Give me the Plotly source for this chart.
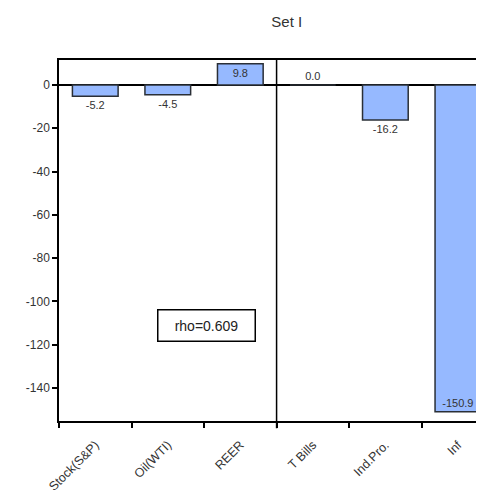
import plotly.graph_objects as go

categories = ["Stock(S&P)", "Oil(WTI)", "REER", "T Bills", "Ind.Pro.", "Inf"]
values = [-5.2, -4.5, 9.8, 0.0, -16.2, -150.9]
text_positions = ["outside", "outside", "inside", "outside", "outside", "inside"]
y_ticks = [0, -20, -40, -60, -80, -100, -120, -140]
rho_label = "rho=0.609"
title_text = "Set I"

FONT = "Liberation Sans, Arial"

fig = go.Figure()
fig.add_trace(go.Bar(
    x=categories, y=values,
    width=0.63,
    marker=dict(color="#96B9FF", line=dict(color="#2a2f36", width=1.5)),
    text=[f"{v:.1f}" for v in values],
    textposition=text_positions,
    insidetextanchor="end",
    textfont=dict(family=FONT, size=11, color="#333333"),
    cliponaxis=False,
    constraintext="none",
))

fig.add_shape(type="line", xref="x", yref="paper", x0=2.5, x1=2.5, y0=-0.02, y1=1,
              line=dict(color="black", width=1.5))

fig.add_annotation(x=1.54, y=-111.3, xref="x", yref="y", text=rho_label, showarrow=False,
                   font=dict(family=FONT, size=14, color="#222"),
                   width=84, height=18,
                   bordercolor="black", borderwidth=1.5, borderpad=6, bgcolor="white")

fig.update_layout(
    width=476, height=491,
    margin=dict(l=51, r=0, t=52, b=78),
    paper_bgcolor="white", plot_bgcolor="white",
    showlegend=False,
    title=dict(text=title_text, x=0.536, xref="paper", xanchor="center",
               y=0.9715, yref="container", yanchor="middle",
               font=dict(family=FONT, size=15, color="#333")),
    font=dict(family=FONT, size=12, color="#333"),
)
fig.update_xaxes(
    type="category", range=[-0.5, 5.36],
    tickson="boundaries", ticks="outside", ticklen=5, tickwidth=1.5, tickcolor="black",
    showline=True, linecolor="black", linewidth=1.5, mirror=True,
    showgrid=False, tickangle=-45, ticklabelstandoff=10,
    tickfont=dict(family=FONT, size=12.5, color="#333"),
)
fig.update_yaxes(
    range=[-155.2, 11.5],
    tickvals=y_ticks, ticktext=[str(t) if t == 0 else f"-{abs(t)}" for t in y_ticks],
    ticks="outside", ticklen=5, tickwidth=1.5, tickcolor="black",
    showline=True, linecolor="black", linewidth=1.5, mirror=False,
    showgrid=False, zeroline=True, zerolinecolor="black", zerolinewidth=1.5,
    tickfont=dict(family=FONT, size=12, color="#333"),
)

fig.write_html("out.html")
